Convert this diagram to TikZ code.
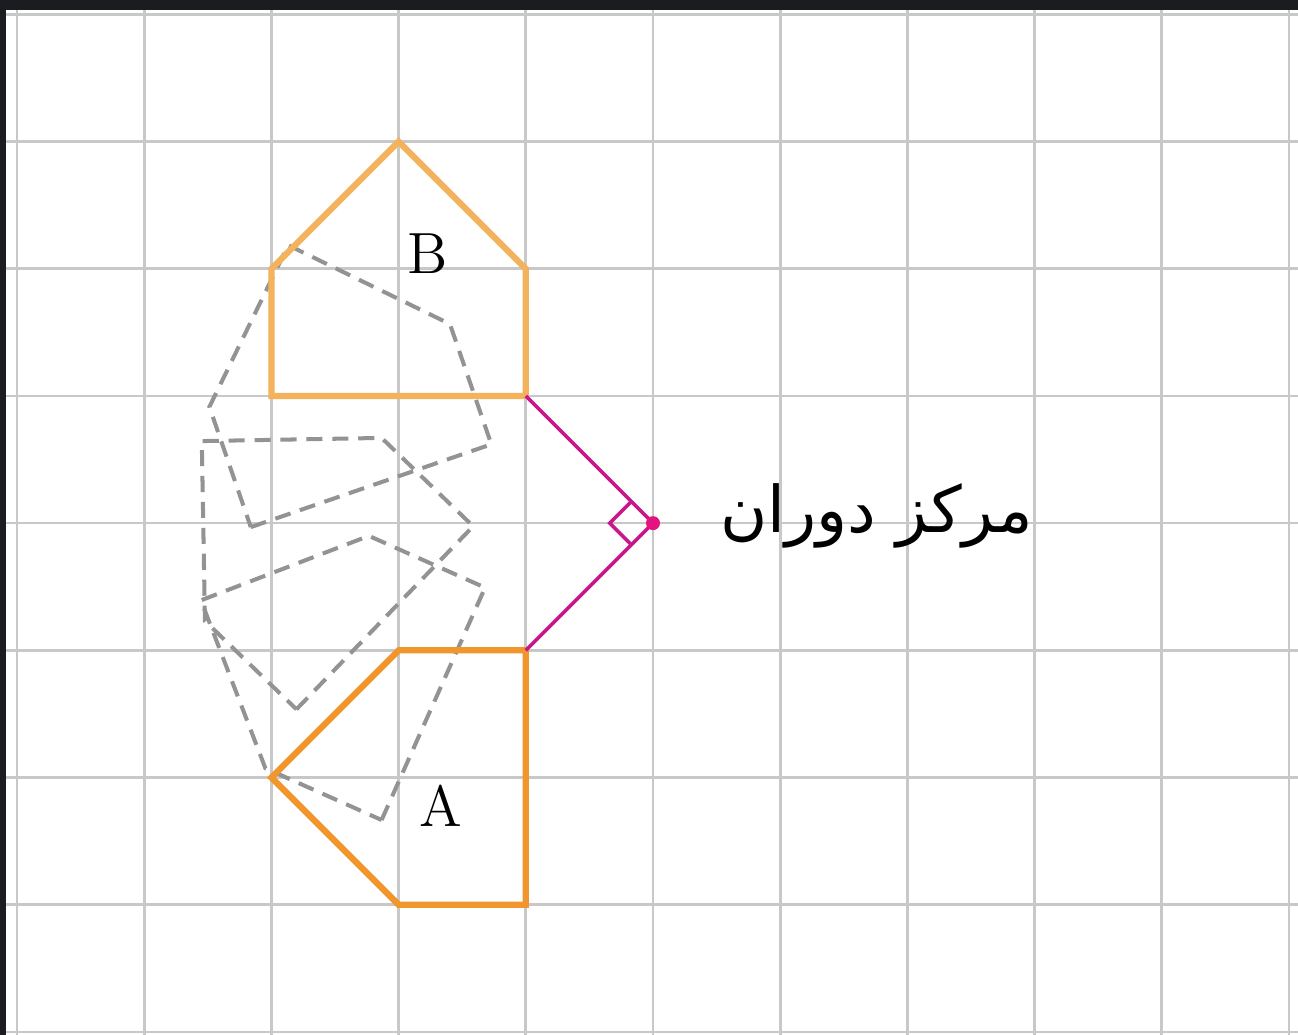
\documentclass[tikz,border=0pt]{standalone}
\usepackage{fontspec}
\usepackage{tikz}
\usetikzlibrary{calc}
\TeXXeTstate=1
\newfontfamily\arabicfont[Script=Arabic]{DejaVu Sans}
\definecolor{gridgray}{HTML}{C8C8C8}
\definecolor{shapeB}{HTML}{F5B25C}
\definecolor{shapeA}{HTML}{F0962C}
\definecolor{centremag}{HTML}{C8168C}
\definecolor{centredot}{HTML}{E4147F}
\definecolor{darkframe}{HTML}{1B1C1F}
\tikzstyle{gridline} = [gridgray, line width=0.6pt]
\tikzstyle{house} = [line width=1.4pt, line join=miter]
\tikzstyle{ghost} = [gray!85, line width=0.9pt, dash pattern=on 3.6pt off 2.2pt]
\tikzstyle{radius} = [centremag, line width=0.8pt]
\tikzstyle{letter} = [font=\fontsize{13}{15}\selectfont, inner sep=0pt]

\begin{document}
\begin{tikzpicture}[x=1cm, y=1cm]

% frame of the screenshot
\fill[darkframe] (-0.134,-0.024) rectangle (10.071,8.113);
\fill[white] (-0.086,-0.024) rectangle (10.071,8.035);
\useasboundingbox (-0.134,-0.024) rectangle (10.071,8.113);

% grid
\foreach \i in {0,...,10}
    \draw[gridline] (\i,-0.024) -- (\i,8.035);
\foreach \j in {0,...,8}
    \draw[gridline] (-0.086,\j) -- (10.071,\j);

\coordinate (C) at (5,4);

% intermediate positions
\foreach \ang in {19,46,66}
    \draw[ghost, rotate around={\ang:(5,4)}]
        (2,5) -- (4,5) -- (4,6) -- (3,7) -- (2,6) -- cycle;

% shape B and its image A
\draw[house, shapeB] (2,5) coordinate (B1) -- (4,5) coordinate (B2)
    -- (4,6) -- (3,7) -- (2,6) -- cycle;
\draw[house, shapeA] (3,3) -- (4,3) coordinate (A2)
    -- (4,1) -- (3,1) -- (2,2) -- cycle;

% centre of rotation
\draw[radius] (B2) -- (C) -- (A2);
\draw[radius] ($(C)+(-0.17,0.17)$) -- ($(C)+(-0.34,0)$) -- ($(C)+(-0.17,-0.17)$);
\fill[centredot] (C) circle (0.055);

\node[letter] (labB) at (3.23,6.12) {B};
\node[letter] (labA) at (3.33,1.78) {A};
\node[anchor=west, inner sep=0pt, font=\fontsize{14.4}{17}\selectfont] (centre)
    at (5.52,4.06) {\arabicfont\beginR مرکز دوران\endR};

\end{tikzpicture}
\end{document}
